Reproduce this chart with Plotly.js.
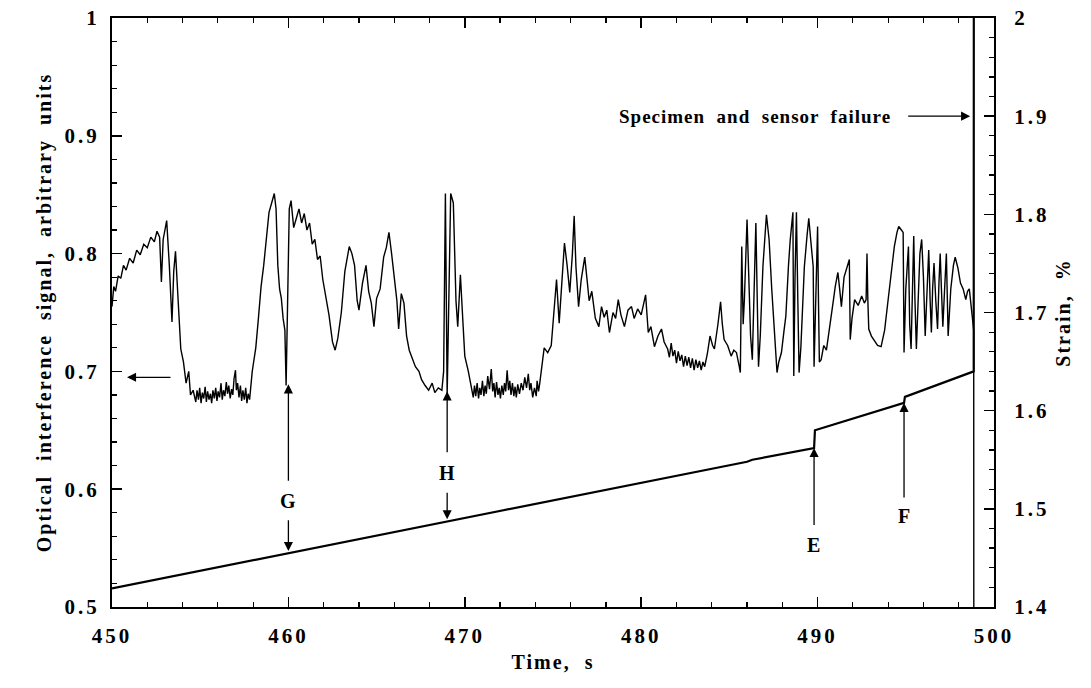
<!DOCTYPE html>
<html>
<head>
<meta charset="utf-8">
<script src="https://cdn.plot.ly/plotly-3.0.1.min.js"></script>
<style>
body{margin:0;background:#fff;}
#chart{width:1091px;height:688px;}
.xtick text, .ytick text, .y2tick text {letter-spacing: 3px;}
.g-xtitle text, .g-ytitle text, .g-y2title text {letter-spacing: 2px;}
.annotation-text {letter-spacing: 1px;}
</style>
</head>
<body>
<div id="chart"></div>
<script>
// Optical interference signal (left axis): [time s, signal]
const signal = [
[450.0,0.755],[450.1,0.772],[450.2,0.768],[450.35,0.781],[450.5,0.779],[450.65,0.790],[450.8,0.786],[451.0,0.796],[451.2,0.792],[451.4,0.803],[451.6,0.799],[451.8,0.808],[452.0,0.805],[452.2,0.814],[452.4,0.810],[452.55,0.819],[452.7,0.814],[452.8,0.776],[452.9,0.812],[453.1,0.828],[453.25,0.790],[453.4,0.742],[453.5,0.785],[453.6,0.802],[453.75,0.760],[453.9,0.719],[454.05,0.708],[454.2,0.690],[454.35,0.700],[454.45,0.680],[454.6,0.684],
[454.75,0.674],[454.82,0.684],[454.9,0.676],[454.97,0.686],[455.05,0.673],[455.12,0.682],[455.2,0.677],[455.28,0.687],[455.35,0.674],[455.42,0.683],[455.5,0.676],[455.58,0.681],[455.65,0.673],[455.72,0.684],[455.8,0.677],[455.88,0.686],[455.95,0.675],[456.02,0.683],[456.1,0.678],[456.18,0.690],[456.25,0.676],[456.32,0.684],[456.4,0.679],[456.48,0.691],[456.55,0.681],[456.62,0.688],[456.7,0.677],[456.78,0.685],[456.85,0.680],[456.92,0.694],[457.0,0.701],[457.05,0.684],[457.12,0.690],[457.2,0.678],[457.28,0.688],[457.35,0.675],[457.42,0.684],[457.5,0.676],[457.58,0.686],[457.65,0.673],[457.72,0.681],[457.8,0.676],[457.88,0.692],[457.95,0.700],[458.0,0.705],
[458.15,0.720],[458.3,0.745],[458.45,0.772],[458.6,0.790],[458.75,0.810],[458.9,0.835],[459.05,0.843],[459.2,0.851],[459.3,0.838],[459.4,0.790],[459.5,0.770],[459.6,0.762],[459.7,0.745],[459.8,0.735],[459.87,0.688],[459.95,0.760],
[460.05,0.838],[460.15,0.845],[460.3,0.822],[460.45,0.830],[460.6,0.838],[460.75,0.826],[460.9,0.834],[461.05,0.820],[461.2,0.826],[461.35,0.808],[461.5,0.812],[461.65,0.795],[461.8,0.798],[461.95,0.778],[462.1,0.765],[462.3,0.748],[462.5,0.725],[462.65,0.718],[462.8,0.728],[463.0,0.750],[463.2,0.785],[463.45,0.806],[463.6,0.800],[463.75,0.790],[463.9,0.760],[464.0,0.752],[464.2,0.775],[464.4,0.790],[464.55,0.768],[464.7,0.758],[464.85,0.738],[465.0,0.762],[465.2,0.770],[465.4,0.797],[465.55,0.805],[465.7,0.818],[465.85,0.800],[466.0,0.780],[466.15,0.760],[466.25,0.736],[466.4,0.766],[466.55,0.758],[466.7,0.730],[466.85,0.718],[467.0,0.712],[467.2,0.704],[467.4,0.700],[467.55,0.693],[467.75,0.688],[467.95,0.684],[468.15,0.690],[468.3,0.682],[468.5,0.686],[468.7,0.684],[468.8,0.700],[468.9,0.851],[469.0,0.680],[469.1,0.760],[469.2,0.851],[469.35,0.843],[469.5,0.760],[469.6,0.738],[469.75,0.782],[469.9,0.740],
[470.0,0.713],[470.2,0.700],[470.4,0.686],[470.48,0.678],[470.55,0.688],[470.62,0.679],[470.7,0.690],[470.78,0.677],[470.85,0.686],[470.92,0.680],[471.0,0.692],[471.08,0.679],[471.15,0.688],[471.22,0.681],[471.3,0.696],[471.4,0.685],[471.5,0.702],[471.58,0.683],[471.65,0.690],[471.72,0.678],[471.8,0.691],[471.88,0.680],[471.95,0.686],[472.02,0.677],[472.1,0.688],[472.18,0.680],[472.25,0.690],[472.32,0.683],[472.4,0.701],[472.48,0.684],[472.55,0.692],[472.62,0.680],[472.7,0.690],[472.78,0.679],[472.85,0.687],[472.92,0.678],[473.0,0.689],[473.1,0.681],[473.2,0.690],[473.3,0.684],[473.4,0.695],[473.5,0.686],[473.6,0.698],[473.68,0.684],[473.75,0.690],[473.85,0.678],[473.95,0.686],[474.05,0.679],[474.1,0.692],[474.18,0.683],[474.25,0.690],[474.32,0.700],[474.4,0.707],
[474.5,0.720],[474.7,0.716],[474.9,0.722],[475.05,0.750],[475.2,0.778],[475.35,0.741],[475.5,0.780],[475.65,0.809],[475.8,0.790],[475.95,0.767],[476.1,0.800],[476.2,0.832],[476.3,0.789],[476.45,0.755],[476.6,0.778],[476.8,0.797],[476.95,0.775],[477.05,0.760],[477.2,0.768],[477.4,0.745],[477.6,0.738],[477.75,0.755],[477.9,0.746],[478.05,0.752],[478.2,0.733],[478.4,0.750],[478.55,0.745],[478.7,0.761],[478.85,0.748],[479.05,0.738],[479.25,0.752],[479.45,0.755],[479.6,0.745],[479.8,0.753],
[480.0,0.748],[480.15,0.758],[480.25,0.765],[480.4,0.733],[480.55,0.738],[480.75,0.721],[480.95,0.730],[481.15,0.736],[481.3,0.725],[481.5,0.719],[481.6,0.712],[481.7,0.724],[481.8,0.713],[481.9,0.718],[482.0,0.707],[482.1,0.717],[482.2,0.709],[482.3,0.714],[482.4,0.704],[482.5,0.713],[482.6,0.705],[482.7,0.712],[482.8,0.703],[482.9,0.711],[483.0,0.701],[483.1,0.710],[483.2,0.703],[483.3,0.709],[483.4,0.701],[483.5,0.708],[483.6,0.704],[483.75,0.715],[483.9,0.730],[484.05,0.722],[484.15,0.719],[484.35,0.740],[484.5,0.759],[484.6,0.740],[484.7,0.727],[484.9,0.722],[485.1,0.713],[485.25,0.718],[485.4,0.716],[485.55,0.705],[485.62,0.699],[485.7,0.806],[485.78,0.740],[485.85,0.761],[486.0,0.829],[486.1,0.780],[486.2,0.730],[486.3,0.710],[486.4,0.760],[486.5,0.826],[486.58,0.760],[486.65,0.704],[486.75,0.730],[486.9,0.789],[487.1,0.833],[487.25,0.812],[487.4,0.770],[487.5,0.747],[487.6,0.715],[487.7,0.699],[487.8,0.708],[487.95,0.716],[488.1,0.735],[488.2,0.747],[488.35,0.790],[488.45,0.812],[488.6,0.835],[488.65,0.696],[488.72,0.780],[488.8,0.835],[488.88,0.760],[488.95,0.699],[489.05,0.720],[489.15,0.760],[489.25,0.789],[489.4,0.815],[489.5,0.830],[489.62,0.810],[489.75,0.789],[489.8,0.704],[489.9,0.760],
[490.0,0.823],[490.05,0.760],[490.1,0.708],[490.2,0.710],[490.35,0.722],[490.5,0.718],[490.6,0.730],[490.75,0.745],[490.9,0.761],[491.0,0.772],[491.15,0.784],[491.25,0.770],[491.35,0.755],[491.5,0.780],[491.65,0.788],[491.8,0.795],[491.85,0.727],[491.95,0.745],[492.1,0.761],[492.3,0.756],[492.5,0.764],[492.65,0.758],[492.75,0.761],[492.8,0.800],[492.85,0.760],[492.9,0.736],[493.05,0.730],[493.2,0.727],[493.4,0.722],[493.6,0.721],[493.8,0.735],[494.0,0.761],[494.2,0.790],[494.35,0.806],[494.5,0.818],[494.6,0.823],[494.75,0.820],[494.85,0.818],[494.9,0.716],[495.0,0.770],[495.15,0.806],[495.22,0.740],[495.3,0.719],[495.38,0.780],[495.45,0.815],[495.52,0.760],[495.6,0.719],[495.7,0.760],[495.8,0.800],[495.9,0.812],[496.0,0.780],[496.1,0.730],[496.2,0.770],[496.3,0.803],[496.38,0.760],[496.45,0.733],[496.52,0.770],[496.6,0.792],[496.7,0.760],[496.8,0.736],[496.88,0.775],[496.95,0.800],[497.02,0.770],[497.1,0.738],[497.2,0.770],[497.3,0.800],[497.35,0.765],[497.4,0.730],[497.55,0.770],[497.7,0.790],[497.8,0.797],[497.95,0.788],[498.1,0.775],[498.25,0.770],[498.4,0.761],[498.5,0.768],[498.6,0.770],[498.7,0.755],[498.75,0.747],[498.85,0.735],[498.86,0.30]
];
const sigTime = signal.map(p => p[0]);
const sigValue = signal.map(p => p[1]);

// Strain (right axis)
const strainTime = [450, 460, 470, 480, 486, 486.3, 489.8, 489.85, 492, 494.9, 494.95, 498.85, 498.86];
const strainValue = [1.419, 1.455, 1.491, 1.527, 1.548, 1.550, 1.562, 1.580, 1.592, 1.608, 1.614, 1.640, 2.30];

// Tick labels
const xTickVals = [450, 460, 470, 480, 490, 500];
const xTickText = ['450', '460', '470', '480', '490', '500'];
const yTickVals = [0.5, 0.6, 0.7, 0.8, 0.9, 1.0];
const yTickText = ['0.5', '0.6', '0.7', '0.8', '0.9', '1'];
const y2TickVals = [1.4, 1.5, 1.6, 1.7, 1.8, 1.9, 2.0];
const y2TickText = ['1.4', '1.5', '1.6', '1.7', '1.8', '1.9', '2'];

// strain read from the strain series at a given time (for arrow tips)
function strainAt(t) {
  for (let i = 1; i < strainTime.length; i++) {
    if (t <= strainTime[i]) {
      const f = (t - strainTime[i-1]) / (strainTime[i] - strainTime[i-1]);
      return strainValue[i-1] + f * (strainValue[i] - strainValue[i-1]);
    }
  }
  return strainValue[strainValue.length - 1];
}

const FONT = '"Liberation Serif", "Times New Roman", serif';
const b = s => '<b>' + s + '</b>';
const tickFont = {family: FONT, size: 21, color: '#000'};
const titleFont = {family: FONT, size: 20, color: '#000'};

const traces = [
  {x: sigTime, y: sigValue, type: 'scatter', mode: 'lines', line: {color: '#000', width: 1.4}, yaxis: 'y', hoverinfo: 'skip'},
  {x: strainTime, y: strainValue, type: 'scatter', mode: 'lines', line: {color: '#000', width: 2.2}, yaxis: 'y2', hoverinfo: 'skip'}
];

const arrowBase = {showarrow: true, arrowhead: 2, arrowsize: 1.4, arrowwidth: 1.3, arrowcolor: '#000', text: '', xref: 'x', axref: 'x'};
const labelFont = {family: FONT, size: 20, color: '#000'};
const labelBase = {showarrow: false, xref: 'x', font: labelFont};

const annotations = [
  // G
  Object.assign({}, labelBase, {x: 460, y: 0.590, yref: 'y', text: b('G')}),
  Object.assign({}, arrowBase, {x: 460, y: 0.689, yref: 'y', ax: 460, ay: 0.606, ayref: 'y'}),
  Object.assign({}, arrowBase, {x: 460, y: strainAt(460) + 0.002, yref: 'y2', ax: 460, ay: 1.490, ayref: 'y2'}),
  // H
  Object.assign({}, labelBase, {x: 469, y: 0.614, yref: 'y', text: b('H')}),
  Object.assign({}, arrowBase, {x: 469, y: 0.683, yref: 'y', ax: 469, ay: 0.630, ayref: 'y'}),
  Object.assign({}, arrowBase, {x: 469, y: strainAt(469) + 0.002, yref: 'y2', ax: 469, ay: 1.518, ayref: 'y2'}),
  // E
  Object.assign({}, labelBase, {x: 489.8, y: 0.553, yref: 'y', text: b('E')}),
  Object.assign({}, arrowBase, {x: 489.8, y: strainAt(489.79), yref: 'y2', ax: 489.8, ay: 1.482, ayref: 'y2'}),
  // F
  Object.assign({}, labelBase, {x: 494.9, y: 0.577, yref: 'y', text: b('F')}),
  Object.assign({}, arrowBase, {x: 494.9, y: strainAt(494.89), yref: 'y2', ax: 494.9, ay: 1.510, ayref: 'y2'}),
  // left-pointing arrow to left axis
  Object.assign({}, arrowBase, {x: 450.85, y: 0.695, yref: 'y', ax: 453.4, ay: 0.695, ayref: 'y'}),
  // failure
  Object.assign({}, labelBase, {x: 494.3, y: 1.9, yref: 'y2', text: b('Specimen  and  sensor  failure'), xanchor: 'right', font: {family: FONT, size: 19, color: '#000'}}),
  Object.assign({}, arrowBase, {x: 498.65, y: 1.9, yref: 'y2', ax: 495.05, ay: 1.9, ayref: 'y2'})
];

const axisCommon = {
  showgrid: false, zeroline: false, showline: true, linecolor: '#000', linewidth: 2,
  ticks: 'inside', ticklen: 10, tickwidth: 1.5, tickcolor: '#000', tickfont: tickFont
};

const layout = {
  width: 1091, height: 688,
  margin: {l: 112, r: 97, t: 18, b: 81},
  paper_bgcolor: '#fff', plot_bgcolor: '#fff',
  showlegend: false,
  font: {family: FONT, color: '#000'},
  xaxis: Object.assign({}, axisCommon, {
    range: [450, 500], tickvals: xTickVals, ticktext: xTickText.map(b), mirror: 'ticks',
    ticklabelstandoff: 9,
    minor: {ticks: 'inside', ticklen: 5, dtick: 2, tickwidth: 1.2, tickcolor: '#000'},
    title: {text: b('Time,  s'), font: titleFont, standoff: 8}
  }),
  yaxis: Object.assign({}, axisCommon, {
    range: [0.5, 1], tickvals: yTickVals, ticktext: yTickText.map(b),
    ticklabelstandoff: 6,
    minor: {ticks: 'inside', ticklen: 5, dtick: 0.02, tickwidth: 1.2, tickcolor: '#000'},
    title: {text: b('Optical  interference  signal,  arbitrary  units'), font: titleFont, standoff: 8}
  }),
  yaxis2: Object.assign({}, axisCommon, {
    range: [1.4, 2], tickvals: y2TickVals, ticktext: y2TickText.map(b), overlaying: 'y', side: 'right',
    ticklabelstandoff: 14,
    minor: {ticks: 'inside', ticklen: 5, dtick: 0.02, tickwidth: 1.2, tickcolor: '#000'},
    title: {text: b('Strain,  %'), font: titleFont, standoff: 8}
  }),
  annotations: annotations
};

Plotly.newPlot('chart', traces, layout, {staticPlot: true, displayModeBar: false});
</script>
</body>
</html>
